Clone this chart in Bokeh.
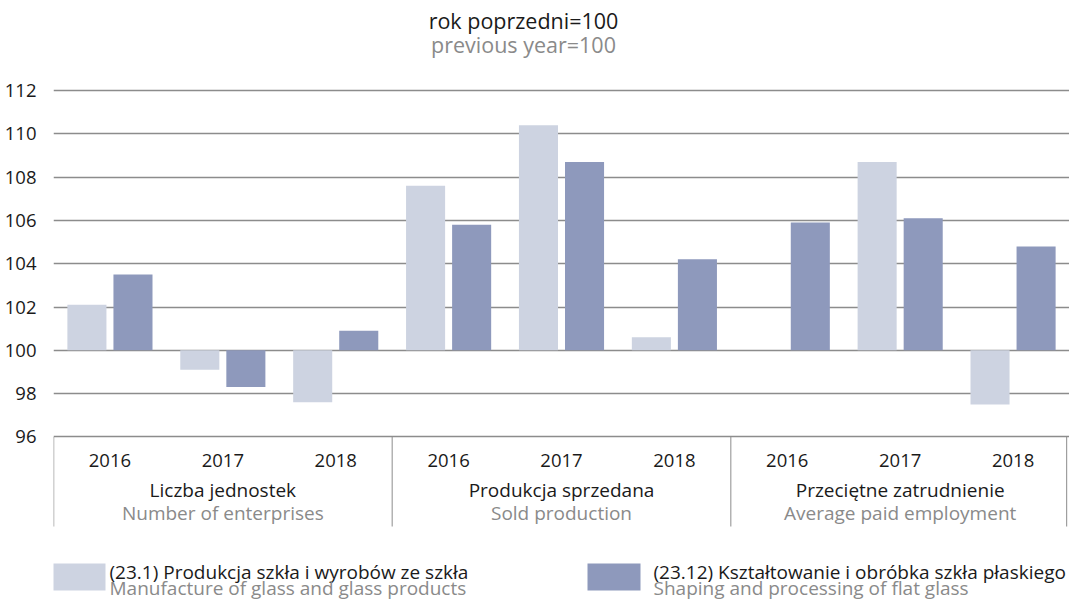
from bokeh.plotting import figure
from bokeh.models import Range1d, FixedTicker, ColumnDataSource
from bokeh.core.properties import value
from bokeh.transform import dodge
from bokeh.embed import file_html
from bokeh.resources import INLINE

# ---- data ----
groups_pl = ["Liczba jednostek", "Produkcja sprzedana", "Przeciętne zatrudnienie"]
groups_en = ["Number of enterprises", "Sold production", "Average paid employment"]
years = ["2016", "2017", "2018"]
series_names_pl = ["(23.1) Produkcja szkła i wyrobów ze szkła",
                   "(23.12) Kształtowanie i obróbka szkła płaskiego"]
series_names_en = ["Manufacture of glass and glass products",
                   "Shaping and processing of flat glass"]
glass = [102.1, 99.1, 97.6, 107.6, 110.4, 100.6, 100.0, 108.7, 97.5]
flat_glass = [103.5, 98.3, 100.9, 105.8, 108.7, 104.2, 105.9, 106.1, 104.8]
y_ticks = [96, 98, 100, 102, 104, 106, 108, 110, 112]
base = 100
title_pl = "rok poprzedni=100"
title_en = "previous year=100"

# ---- styles ----
LIGHT = "#CDD3E1"
DARK = "#8E99BC"
GRID = "#8C8C8C"
BLACK = "#1A1A1A"
GREY = "#8A8A8A"
FONT = value("Open Sans")

W, H = 1069, 601
LEFT = 53
PX_PER_UNIT = 21.65      # vertical pixels per index point
TOP_TICK_PX = 90         # canvas y of the top tick


def ry(py):
    """canvas pixel row -> data y (for text placement only)"""
    return y_ticks[-1] - (py - TOP_TICK_PX) / PX_PER_UNIT


def tb(py, size):
    """baseline row for a text of given size (renderer offset correction)"""
    return ry(py - 0.38 * size)


n_cat = len(groups_pl) * len(years)
px_per_cat = (W - LEFT) / n_cat


def rx(px):
    return (px - LEFT) / px_per_cat


p = figure(width=W, height=H, output_backend="svg", toolbar_location=None,
           x_range=Range1d(0, n_cat), y_range=Range1d(ry(H), ry(0)),
           min_border_left=LEFT, min_border_right=0, min_border_top=0,
           min_border_bottom=0, x_axis_location=None)
p.outline_line_color = None
p.background_fill_color = "white"
p.border_fill_color = "white"

# y axis
p.yaxis.ticker = FixedTicker(ticks=y_ticks)
p.yaxis.axis_line_color = None
p.yaxis.major_tick_line_color = None
p.yaxis.minor_tick_line_color = None
p.yaxis.major_label_standoff = 11
p.yaxis.major_label_text_font = "Open Sans"
p.yaxis.major_label_text_font_size = "18.5px"
p.yaxis.major_label_text_color = BLACK

p.ygrid.ticker = FixedTicker(ticks=y_ticks)
p.ygrid.grid_line_color = GRID
p.ygrid.grid_line_width = 1.3
p.xgrid.grid_line_color = None

# bars
xs = [i + 0.5 for i in range(n_cat)]
src = ColumnDataSource(dict(x=xs, glass=glass, flat=flat_glass,
                            base=[base] * n_cat))
p.vbar(x=dodge("x", -0.204), width=0.346, bottom="base", top="glass",
       source=src, fill_color=LIGHT, line_color=None)
p.vbar(x=dodge("x", 0.204), width=0.346, bottom="base", top="flat",
       source=src, fill_color=DARK, line_color=None)

# category box separators
sep_x = [0.002] + [len(years) * (i + 1) for i in range(len(groups_pl))]
sep_x[-1] = n_cat - 0.025
p.segment(x0=sep_x, x1=sep_x, y0=[y_ticks[0]] * len(sep_x),
          y1=[ry(526)] * len(sep_x), line_color=GRID, line_width=1)

# year labels
year_labels = years * len(groups_pl)
p.text(x=xs, y=[tb(467, 18.5)] * n_cat, text=year_labels, text_font=FONT,
       text_font_size="18.5px", text_color=BLACK, text_align="center",
       text_baseline="alphabetic")
gx = [len(years) * i + len(years) / 2 for i in range(len(groups_pl))]
p.text(x=gx, y=[tb(497, 19)] * len(gx), text=groups_pl, text_font=FONT,
       text_font_size="19px", text_color=BLACK, text_align="center",
       text_baseline="alphabetic")
p.text(x=gx, y=[tb(520, 19)] * len(gx), text=groups_en, text_font=FONT,
       text_font_size="19px", text_color=GREY, text_align="center",
       text_baseline="alphabetic")

# title
tx = rx(523)
p.text(x=[tx], y=[tb(28, 21.5)], text=[title_pl], text_font=FONT,
       text_font_size="21.5px", text_color=BLACK, text_align="center",
       text_baseline="alphabetic")
p.text(x=[tx], y=[tb(52, 21.5)], text=[title_en], text_font=FONT,
       text_font_size="21.5px", text_color=GREY, text_align="center",
       text_baseline="alphabetic")

# legend
sw_x0 = [rx(52), rx(587)]
sw_w = rx(105) - rx(52)
colors = [LIGHT, DARK]
p.quad(left=sw_x0, right=[s + sw_w for s in sw_x0],
       bottom=[ry(590)] * 2, top=[ry(563)] * 2,
       fill_color=colors, line_color=None)
lx = [rx(109), rx(653)]
p.text(x=lx, y=[tb(579, 19)] * 2, text=series_names_pl, text_font=FONT,
       text_font_size="19px", text_color=BLACK, text_align="left",
       text_baseline="alphabetic")
p.text(x=lx, y=[tb(595, 19)] * 2, text=series_names_en, text_font=FONT,
       text_font_size="19px", text_color=GREY, text_align="left",
       text_baseline="alphabetic")

open("out.html", "w").write(file_html(p, INLINE))
